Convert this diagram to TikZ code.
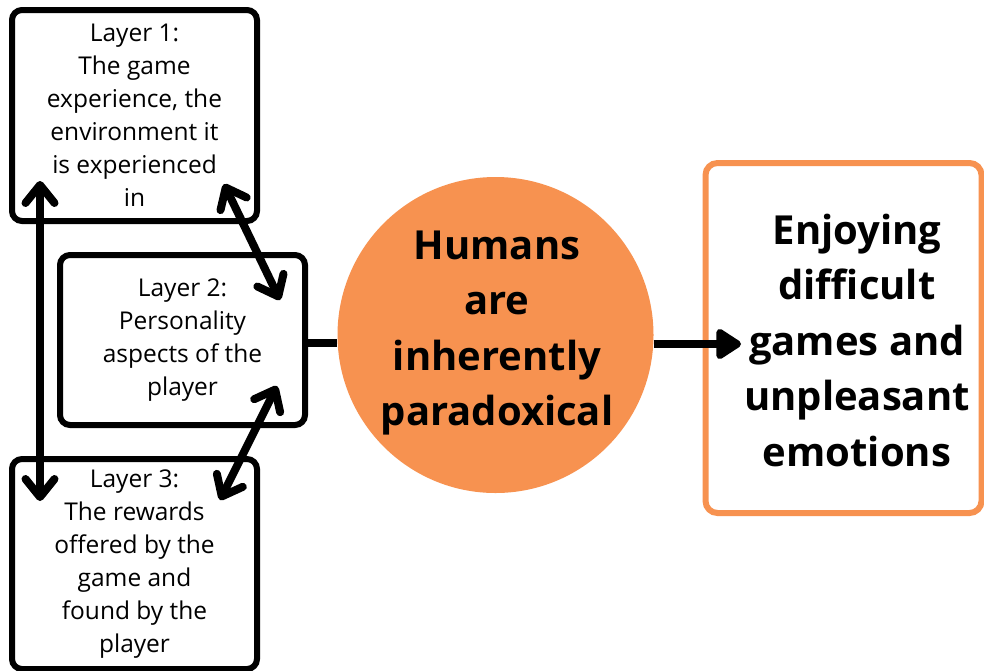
\documentclass[tikz,border=0pt]{standalone}
\usepackage{fontspec}
\setmainfont{Open Sans}
\usetikzlibrary{arrows.meta}
\definecolor{warm}{HTML}{F79250}
\tikzset{
  barb/.tip={Straight Barb[length=18pt,width=29pt,line width=8pt,line cap=round,line join=round]},
  layerbox/.style={draw=black, line width=6pt, rounded corners=10pt, fill=white,
    align=center, inner sep=0pt, font=\fontsize{24.5}{33}\selectfont},
  linkarrow/.style={line width=8pt, line cap=round, barb-barb},
  bigtext/.style={align=center, font=\bfseries\fontsize{40}{55.5}\selectfont}
}
\begin{document}
\begin{tikzpicture}[x=1pt,y=-1pt]
  \useasboundingbox[fill=white] (0,0) rectangle (984,670);

  % three layer boxes
  \node[layerbox, minimum width=245pt, minimum height=211pt] (l1) at (134.5,115.5)
    {Layer 1:\\The game\\experience, the\\environment it\\is experienced\\in};
  \node[layerbox, minimum width=245pt, minimum height=170pt] (l2) at (182.5,340)
    {Layer 2:\\Personality\\aspects of the\\player};
  \node[layerbox, minimum width=245pt, minimum height=210pt] (l3) at (134.5,564)
    {Layer 3:\\The rewards\\offered by the\\game and\\found by the\\player};

  % central circle and outcome box
  \node[circle, fill=warm, minimum size=316pt, inner sep=0pt] (core) at (495.5,335) {};
  \node[bigtext] (coretext) at (497,333) {Humans\\are\\inherently\\paradoxical};
  \node[draw=warm, line width=6pt, rounded corners=12pt, fill=white,
        minimum width=276pt, minimum height=350pt] (out) at (843.5,338) {};
  \node[bigtext] (outtext) at (857,340) {Enjoying\\difficult\\games and\\unpleasant\\emotions};

  % arrow end points between the layers
  \coordinate (v1) at (40,181);
  \coordinate (v3) at (40,501);
  \coordinate (d1) at (224,184);
  \coordinate (d2) at (280,300);
  \coordinate (e2) at (277,386);
  \coordinate (e3) at (220,500);
  \coordinate (tip) at (741,344);

  \draw[linkarrow] (v1) -- (v3);
  \draw[linkarrow] (d1) -- (d2);
  \draw[linkarrow] (e2) -- (e3);

  % connectors to and from the circle
  \draw[line width=8pt] (l2.east |- 0,343) -- (core.west |- 0,343);
  \draw[line width=8pt, -{Triangle[length=28pt,width=34pt,round]}]
    (core.east |- 0,344) -- (tip);
\end{tikzpicture}
\end{document}
